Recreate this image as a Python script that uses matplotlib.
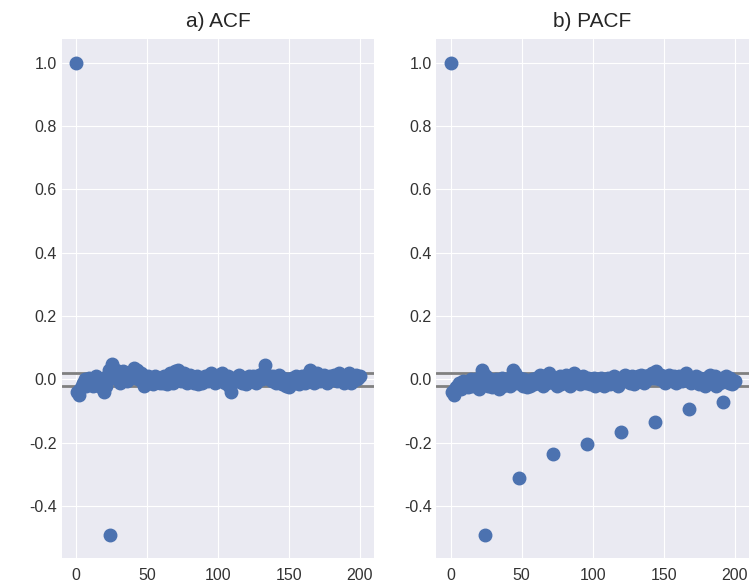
import numpy as np
import matplotlib
matplotlib.use("Agg")
import matplotlib.pyplot as plt

# lag values
lags = np.arange(201)

acf_vals = [
    1.0, -0.04, -0.05, -0.03, -0.02, -0.01, 0.0, -0.02, -0.01, 0.005,
    -0.015, 0.0, -0.02, -0.01, 0.01, -0.005, -0.02, -0.01, 0.0, -0.03,
    -0.04, -0.02, 0.01, 0.03, -0.49, 0.048, 0.02, 0.01, 0.03, 0.0,
    0.02, -0.01, 0.015, 0.025, 0.0, 0.01, -0.005, 0.02, 0.01, 0.005,
    0.02, 0.035, 0.015, 0.03, 0.0, 0.01, 0.02, -0.01, -0.02, 0.005,
    0.0, 0.01, -0.01, 0.005, -0.015, 0.0, 0.01, -0.005, 0.005, -0.01,
    0.0, -0.01, 0.01, 0.0, -0.015, 0.005, 0.02, 0.01, -0.01, 0.015,
    0.025, 0.02, 0.03, 0.01, -0.005, 0.015, 0.02, 0.0, -0.01, 0.01,
    0.015, 0.005, 0.0, -0.01, 0.005, 0.01, -0.015, 0.0, 0.005, -0.01,
    0.0, 0.01, 0.005, -0.005, 0.015, 0.02, 0.01, 0.0, -0.01, 0.005,
    0.015, 0.01, -0.005, 0.02, 0.0, -0.01, 0.005, 0.01, -0.02, -0.04,
    -0.01, 0.0, 0.005, -0.005, 0.01, 0.015, 0.0, -0.01, 0.005, 0.0,
    -0.015, 0.0, 0.01, 0.005, -0.005, 0.01, 0.0, -0.01, 0.005, 0.015,
    0.01, 0.0, 0.02, 0.045, 0.015, 0.005, 0.0, 0.01, -0.005, 0.01,
    0.0, -0.01, 0.005, 0.015, 0.0, -0.015, 0.005, -0.01, -0.02, 0.0,
    -0.025, -0.015, 0.005, 0.0, -0.01, 0.01, -0.005, -0.015, 0.0, 0.01,
    0.005, -0.01, 0.0, 0.015, 0.02, 0.03, 0.01, 0.0, -0.01, 0.005,
    0.02, 0.01, -0.005, 0.01, 0.0, 0.015, 0.005, -0.01, 0.0, 0.01,
    0.005, 0.0, 0.015, 0.01, -0.005, 0.02, 0.005, 0.0, 0.01, -0.01,
    0.0, 0.015, 0.02, 0.005, -0.01, -0.005, 0.01, 0.015, 0.0, 0.005,
    0.01,
]

pacf_vals = [
    1.0, -0.04, -0.05, -0.03, -0.025, -0.02, -0.01, -0.03, -0.015, -0.005,
    -0.02, -0.01, -0.025, -0.015, 0.0, -0.02, -0.01, 0.0, -0.015, -0.02,
    -0.03, -0.01, 0.03, 0.02, -0.49, 0.01, -0.02, -0.01, 0.0, -0.025,
    -0.01, -0.02, 0.0, -0.015, -0.03, -0.01, 0.005, -0.02, -0.01, 0.0,
    -0.015, -0.005, -0.02, 0.01, 0.03, 0.02, 0.0, -0.01, -0.31, 0.005,
    -0.01, -0.02, 0.0, -0.015, -0.025, -0.005, -0.02, 0.0, -0.01, -0.015,
    0.005, -0.01, 0.0, 0.015, -0.005, -0.02, 0.01, 0.0, -0.01, 0.02,
    0.01, 0.0, -0.235, -0.01, 0.005, -0.02, 0.0, 0.01, -0.015, -0.005,
    0.0, 0.015, -0.01, 0.005, -0.02, 0.0, 0.01, 0.02, -0.005, 0.01,
    0.0, -0.015, -0.005, 0.01, 0.0, -0.01, -0.205, 0.005, -0.015, 0.0,
    -0.01, 0.005, -0.02, -0.01, 0.0, -0.015, 0.005, -0.005, -0.02, -0.01,
    0.0, 0.005, -0.015, -0.01, 0.0, 0.01, -0.005, 0.005, -0.02, -0.01,
    -0.165, 0.0, 0.01, 0.015, -0.005, 0.005, -0.01, 0.0, 0.01, -0.015,
    0.0, 0.005, 0.01, -0.005, 0.015, 0.0, -0.01, 0.01, 0.005, 0.0,
    0.015, 0.01, 0.02, 0.005, -0.135, 0.025, 0.01, 0.0, 0.015, 0.005,
    0.0, -0.01, 0.005, 0.01, 0.015, 0.0, -0.005, 0.01, 0.005, -0.01,
    0.0, 0.01, 0.005, -0.005, 0.0, 0.01, 0.02, 0.005, -0.095, -0.01,
    0.0, 0.005, -0.005, 0.01, 0.0, -0.015, 0.005, 0.0, -0.01, -0.02,
    0.005, 0.0, 0.01, 0.015, -0.005, 0.0, 0.01, -0.02, -0.005, 0.0,
    -0.01, 0.005, -0.07, 0.0, 0.01, -0.005, -0.01, 0.005, -0.015, -0.01,
    -0.005,
]

conf = 0.02
titles = ["a) ACF", "b) PACF"]

plt.style.use("seaborn-v0_8-darkgrid")
plt.rcParams["font.family"] = ["Liberation Sans", "DejaVu Sans"]
plt.rcParams["axes.unicode_minus"] = False

fig, axes = plt.subplots(1, 2, figsize=(7.54, 5.85), dpi=100)
fig.subplots_adjust(left=0.082, right=0.993, top=0.933, bottom=0.046, wspace=0.2)

for ax, vals, title in zip(axes, [acf_vals, pacf_vals], titles):
    ax.axhline(conf, color="gray", lw=2, zorder=1)
    ax.axhline(-conf, color="gray", lw=2, zorder=1)
    ax.plot(lags, vals, "o", color="#4C72B0", markersize=9, zorder=2)
    ax.set_title(title, fontsize=15, pad=9)
    ax.set_xticks([0, 50, 100, 150, 200])
    ax.set_yticks([-0.4, -0.2, 0.0, 0.2, 0.4, 0.6, 0.8, 1.0])
    ax.tick_params(labelsize=11.5, labelcolor="0.2")
    ax.tick_params(axis="x", pad=7)

fig.savefig("out.png", dpi=100)
